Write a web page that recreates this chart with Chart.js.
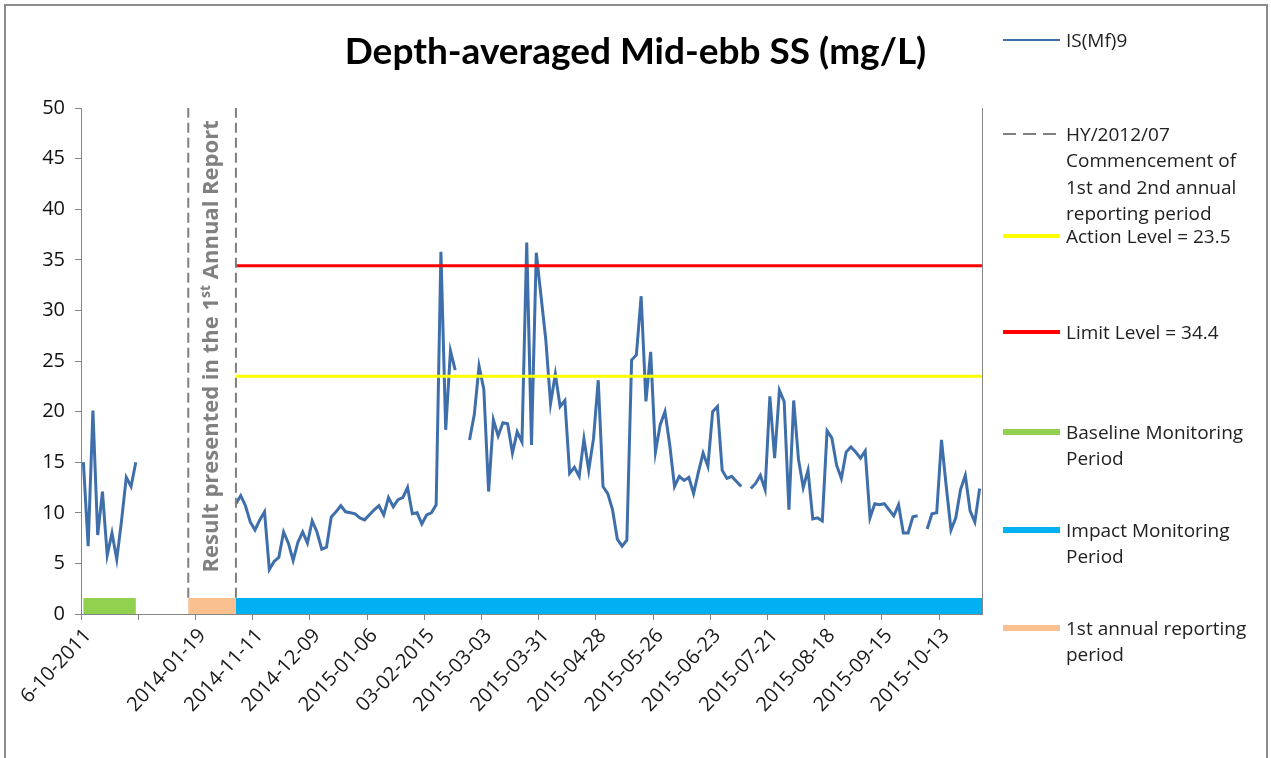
<!DOCTYPE html>
<html lang="en">
<head>
    <meta charset="UTF-8">
    <title>Depth-averaged Mid-ebb SS (mg/L)</title>
    <script src="https://cdn.jsdelivr.net/npm/chart.js"></script>
    <style>
        body {
            margin: 0;
            background: #ffffff;
            overflow: hidden;
            font-family: "Open Sans", sans-serif;
        }

        .frame {
            position: absolute;
            left: 4px;
            top: 4px;
            width: 1260px;
            height: 800px;
            border: 2px solid #8c8c8c;
            pointer-events: none;
        }

        .title {
            position: absolute;
            left: 0;
            top: 29px;
            width: 1271px;
            text-align: center;
            font-family: Lato, sans-serif;
            font-weight: 700;
            font-size: 37px;
            line-height: 42px;
            color: #000;
        }

        canvas {
            position: absolute;
            left: 0;
            top: 0;
        }

        .legend-item {
            position: absolute;
            left: 1066px;
            font-size: 19px;
            line-height: 26.5px;
            color: #222;
            white-space: nowrap;
        }

        .swatch {
            position: absolute;
            left: 1003px;
            width: 57px;
        }
    </style>
</head>
<body>

    <canvas id="ssChart" width="1271" height="758"></canvas>
    <div class="title">Depth-averaged Mid-ebb SS (mg/L)</div>
    <div id="legend"></div>
    <div class="frame"></div>

    <script>
        // x tick labels, one every 12 sampling days
        const tickLabels = ['6-10-2011', '', '2014-01-19', '2014-11-11', '2014-12-09', '2015-01-06',
            '03-02-2015', '2015-03-03', '2015-03-31', '2015-04-28', '2015-05-26', '2015-06-23',
            '2015-07-21', '2015-08-18', '2015-09-15', '2015-10-13'];

        // IS(Mf)9 depth-averaged SS, one value per sampling day (null = no sample)
        const ssValues = [
            15.0, 6.7, 20.1, 7.8, 12.1, 5.8, 8.0, 5.4, 9.2, 13.5, 12.6, 15.0,
            null, null, null, null, null, null, null, null, null, null,
            null, null, null, null, null, null, null, null, null, null,
            10.9, 11.7, 10.7, 9.1, 8.3, 9.3, 10.1, 4.4, 5.2, 5.6,
            8.1, 7.0, 5.3, 7.1, 8.1, 7.0, 9.2, 8.1, 6.4, 6.6,
            9.6, 10.1, 10.7, 10.1, 10.0, 9.9, 9.5, 9.3, 9.8, 10.3,
            10.7, 9.8, 11.5, 10.6, 11.3, 11.5, 12.5, 9.9, 10.0, 8.9,
            9.8, 10.0, 10.8, 35.8, 18.2, 26.0, 24.1, null, null, 17.2,
            19.7, 24.5, 22.2, 12.1, 19.2, 17.6, 18.9, 18.8, 15.9, 18.0,
            17.0, 36.7, 16.7, 35.7, 31.4, 27.1, 20.8, 23.7, 20.5, 21.1,
            13.9, 14.5, 13.6, 17.3, 14.2, 17.3, 23.1, 12.6, 11.9, 10.3,
            7.4, 6.7, 7.3, 25.1, 25.6, 31.4, 21.0, 25.9, 16.0, 18.7,
            20.0, 16.7, 12.6, 13.6, 13.2, 13.5, 11.9, 14.0, 15.9, 14.6,
            20.0, 20.5, 14.2, 13.4, 13.6, 13.1, 12.6, null, 12.4, 12.9,
            13.7, 12.3, 21.5, 15.4, 22.1, 21.0, 10.3, 21.1, 15.3, 12.5,
            14.2, 9.4, 9.5, 9.2, 18.1, 17.4, 14.7, 13.4, 16.0, 16.5,
            16.0, 15.4, 16.1, 9.5, 10.9, 10.8, 10.9, 10.3, 9.7, 10.8,
            8.0, 8.0, 9.6, 9.7, null, 8.4, 9.9, 10.0, 17.2, 12.6,
            8.3, 9.5, 12.3, 13.7, 10.2, 9.1, 12.4
        ];

        const actionLevel = 23.5;
        const limitLevel = 34.4;

        // periods as [first, last] sampling day index
        const baselinePeriod = [0, 11];
        const reportPeriod = [22, 32];
        const impactPeriod = [32, 188];
        const reportMarkers = [22, 32];

        const axisGrey = '#868686';
        const bandY = 0.8;       // centre of the period bands along the x axis
        const bandTop = 1.6;
        const lastEdge = ssValues.length - 0.5;

        function hLine(from, to, y) {
            return [{ x: from, y: y }, { x: to, y: y }];
        }

        function vLine(x) {
            return [{ x: x, y: bandTop }, { x: x, y: 50 }];
        }

        function band(from, to, color) {
            return {
                data: hLine(from, to, bandY),
                borderColor: color,
                borderWidth: 16,
                borderCapStyle: 'butt',
                pointRadius: 0
            };
        }

        // rotated "Result presented in the 1st Annual Report" between the dashed markers
        const reportNote = {
            id: 'reportNote',
            afterDatasetsDraw(chart) {
                const { ctx, scales: { x, y } } = chart;
                const cx = (x.getPixelForValue(reportMarkers[0]) + x.getPixelForValue(reportMarkers[1])) / 2;
                ctx.save();
                ctx.translate(cx, y.getPixelForValue(4.1));
                ctx.rotate(-Math.PI / 2);
                ctx.fillStyle = '#808080';
                ctx.textAlign = 'left';
                ctx.textBaseline = 'middle';
                const parts = [
                    ['Result presented in the 1', 'bold 22px "Open Sans"', 0],
                    ['st', 'bold 14px "Open Sans"', -6],
                    [' Annual Report', 'bold 22px "Open Sans"', 0]
                ];
                let pos = 0;
                parts.forEach(([text, font, shift]) => {
                    ctx.font = font;
                    ctx.fillText(text, pos, shift);
                    pos += ctx.measureText(text).width;
                });
                ctx.restore();
            }
        };

        const ctx = document.getElementById('ssChart').getContext('2d');

        new Chart(ctx, {
            type: 'line',
            data: {
                datasets: [
                    band(baselinePeriod[0], baselinePeriod[1], '#92d050'),
                    band(reportPeriod[0], reportPeriod[1], '#fac090'),
                    band(impactPeriod[0], lastEdge, '#00b0f0'),
                    {
                        data: vLine(reportMarkers[0]),
                        borderColor: '#7f7f7f',
                        borderWidth: 2,
                        borderDash: [10, 5],
                        pointRadius: 0
                    },
                    {
                        data: vLine(reportMarkers[1]),
                        borderColor: '#7f7f7f',
                        borderWidth: 2,
                        borderDash: [10, 5],
                        pointRadius: 0
                    },
                    {
                        data: hLine(impactPeriod[0], lastEdge, actionLevel),
                        borderColor: '#ffff00',
                        borderWidth: 3,
                        pointRadius: 0
                    },
                    {
                        data: hLine(impactPeriod[0], lastEdge, limitLevel),
                        borderColor: '#ff0000',
                        borderWidth: 3,
                        pointRadius: 0
                    },
                    {
                        label: 'IS(Mf)9',
                        data: ssValues.map((v, i) => ({ x: i, y: v })),
                        borderColor: '#3f6faa',
                        borderWidth: 3,
                        pointRadius: 0,
                        spanGaps: false
                    }
                ]
            },
            options: {
                responsive: false,
                animation: false,
                events: [],
                layout: { padding: { top: 108, right: 289, left: 0, bottom: 0 } },
                plugins: {
                    legend: { display: false },
                    tooltip: { enabled: false }
                },
                scales: {
                    x: {
                        type: 'linear',
                        bounds: 'data',
                        min: -0.5,
                        max: lastEdge,
                        afterBuildTicks: (scale) => {
                            scale.ticks = tickLabels.map((_, k) => ({ value: k * 12 - 0.5 }));
                        },
                        afterFit: (scale) => { scale.height = 144; },
                        grid: { drawOnChartArea: false, drawTicks: true, tickLength: 6, color: axisGrey },
                        border: { color: axisGrey, width: 1 },
                        ticks: {
                            autoSkip: false,
                            minRotation: 47,
                            maxRotation: 47,
                            padding: 4,
                            labelOffset: 7,
                            color: '#1a1a1a',
                            font: { family: '"Open Sans"', size: 20 },
                            callback: (value, index) => tickLabels[index]
                        }
                    },
                    y: {
                        min: 0,
                        max: 50,
                        afterFit: (scale) => { scale.width = 81; },
                        grid: { drawOnChartArea: false, drawTicks: true, tickLength: 6, color: axisGrey },
                        border: { color: axisGrey, width: 1 },
                        ticks: {
                            stepSize: 5,
                            padding: 10,
                            color: '#111',
                            font: { family: '"Open Sans"', size: 20 }
                        }
                    },
                    y2: {
                        position: 'right',
                        min: 0,
                        max: 50,
                        afterFit: (scale) => { scale.width = 0; },
                        grid: { display: false },
                        border: { color: axisGrey, width: 1 },
                        ticks: { display: false }
                    }
                }
            },
            plugins: [reportNote]
        });

        // legend on the right
        const legendItems = [
            { y: 40, lines: ['IS(Mf)9'], color: '#3f6faa', width: 2 },
            { y: 134, lines: ['HY/2012/07', 'Commencement of', '1st and 2nd annual', 'reporting period'], color: '#808080', width: 2, dashed: true },
            { y: 236, lines: ['Action Level = ' + actionLevel], color: '#ffff00', width: 4 },
            { y: 332, lines: ['Limit Level = ' + limitLevel], color: '#ff0000', width: 4 },
            { y: 432, lines: ['Baseline Monitoring', 'Period'], color: '#92d050', width: 6 },
            { y: 530, lines: ['Impact Monitoring', 'Period'], color: '#00b0f0', width: 6 },
            { y: 628, lines: ['1st annual reporting', 'period'], color: '#fac090', width: 6 }
        ];

        const legend = document.getElementById('legend');
        legendItems.forEach(item => {
            const sw = document.createElement('div');
            sw.className = 'swatch';
            sw.style.top = (item.y - item.width / 2) + 'px';
            sw.style.height = item.width + 'px';
            if (item.dashed) {
                sw.style.background = 'repeating-linear-gradient(to right, ' + item.color + ' 0 13px, transparent 13px 20px)';
            } else {
                sw.style.background = item.color;
            }
            legend.appendChild(sw);

            const txt = document.createElement('div');
            txt.className = 'legend-item';
            txt.style.top = (item.y - 13.25) + 'px';
            txt.innerHTML = item.lines.join('<br>');
            legend.appendChild(txt);
        });
    </script>

</body>
</html>
